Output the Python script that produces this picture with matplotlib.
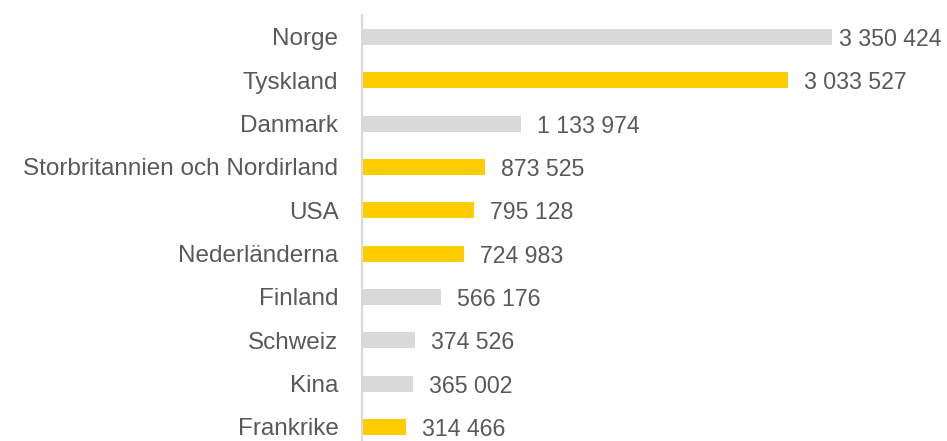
import matplotlib.pyplot as plt

countries = ["Norge", "Tyskland", "Danmark", "Storbritannien och Nordirland", "USA",
             "Nederländerna", "Finland", "Schweiz", "Kina", "Frankrike"]
values = [3350424, 3033527, 1133974, 873525, 795128, 724983, 566176, 374526, 365002, 314466]
highlight = [False, True, False, True, True, True, False, False, False, True]
value_labels = ["3 350 424", "3 033 527", "1 133 974", "873 525", "795 128",
                "724 983", "566 176", "374 526", "365 002", "314 466"]

grey = "#d9d9d9"
yellow = "#ffcc00"
textc = "#595959"

plt.rcParams['font.family'] = ['Liberation Sans', 'DejaVu Sans']

fig = plt.figure(figsize=(9.47, 4.41), dpi=100)
ax = fig.add_axes([362/947, -0.0173, 585/947, 0.9826])

colors = [yellow if h else grey for h in highlight]
ypos = range(len(countries))
ax.barh(ypos, values, height=0.37, color=colors)

ax.set_ylim(len(countries) - 0.5, -0.5)
ax.set_xlim(0, 585 / 1.404e-4)

ax.set_yticks(list(ypos))
ax.set_yticklabels(countries, fontsize=17.5, color=textc)
ax.tick_params(axis='y', length=0, pad=17)
ax.set_xticks([])

for s in ["top", "right", "bottom"]:
    ax.spines[s].set_visible(False)
ax.spines["left"].set_color(grey)
ax.spines["left"].set_linewidth(1.5)

for i, (v, lab) in enumerate(zip(values, value_labels)):
    off = 5 if i == 0 else 11.5
    ax.annotate(lab, (v, i), xytext=(off, 0), textcoords="offset points",
                va="center_baseline", ha="left", fontsize=16.7, color=textc)

fig.savefig("out.png", dpi=100)
